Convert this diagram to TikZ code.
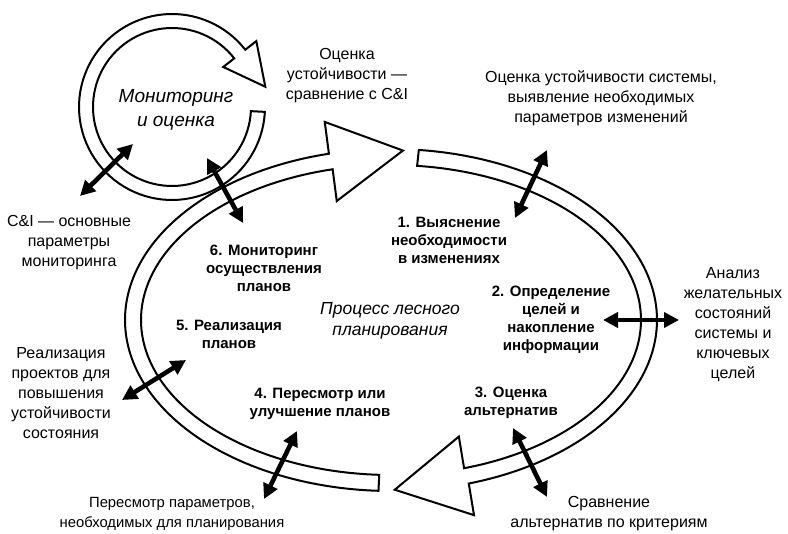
\documentclass[tikz,border=0pt]{standalone}
\usepackage{fontspec}
\setmainfont{Liberation Sans}
\usetikzlibrary{arrows.meta}
\begin{document}
\begin{tikzpicture}[x=1pt,y=-1pt,
  band/.style={draw=black, line width=2pt, line join=miter},
  dbl/.style={line width=4.6pt, {Triangle[length=15pt,width=15pt]}-{Triangle[length=15pt,width=15pt]}},
  txt/.style={font=\fontsize{16}{20}\selectfont, align=center, inner sep=0pt},
  stage/.style={font=\bfseries\fontsize{15}{18}\selectfont, align=center, inner sep=0pt},
  title/.style={font=\itshape\fontsize{19}{24}\selectfont, align=center, inner sep=0pt}]
\useasboundingbox (0,0) rectangle (788,534);

% small monitoring ring
\draw[band] plot[domain=3:322,samples=90] ({172+93*cos(\x)},{107+93*sin(\x)})
  -- ({172+107*cos(322)},{107+107*sin(322)})
  -- ({172+86*cos(322)+41.5*cos(52)},{107+86*sin(322)+41.5*sin(52)})
  -- ({172+65*cos(322)},{107+65*sin(322)})
  -- plot[domain=322:3,samples=90] ({172+79*cos(\x)},{107+79*sin(\x)}) -- cycle;

% big loop, first half (top right to bottom)
\draw[band] plot[domain=-84:73,samples=120] ({391+266*cos(\x)},{320+171*sin(\x)})
  -- (474.02,515.15) -- (394.75,489.73) -- (458.84,436.61)
  -- plot[domain=73:-84,samples=120] ({391+250*cos(\x)},{320+155*sin(\x)}) -- cycle;

% big loop, second half (bottom to top)
\draw[band] plot[domain=92.7:256.5,samples=120] ({391+266*cos(\x)},{320+171*sin(\x)})
  -- (324.77,121.95) -- (402.94,150.55) -- (336.77,201.05)
  -- plot[domain=256.5:92.7,samples=120] ({391+250*cos(\x)},{320+155*sin(\x)}) -- cycle;

% texts
\node[title] (mon) at (176,110) {Мониторинг\\и оценка};
\node[title,font=\itshape\fontsize{17.5}{21}\selectfont] (proc) at (390,321) {Процесс лесного\\планирования};
\node[txt] (ust) at (347,76) {Оценка\\устойчивости —\\сравнение с C\&I};
\node[txt] (ocs) at (601,98) {Оценка устойчивости системы,\\выявление необходимых\\параметров изменений};
\node[txt] (ci) at (69,243) {C\&I — основные\\параметры\\мониторинга};
\node[txt] (real) at (61,393) {Реализация\\проектов для\\повышения\\устойчивости\\состояния};
\node[txt,font=\fontsize{14.8}{20}\selectfont] (pers) at (172,514) {Пересмотр параметров,\\необходимых для планирования};
\node[txt] (srav) at (609,514) {Сравнение\\альтернатив по критериям};
\node[txt] (anal) at (733,325) {Анализ\\желательных\\состояний\\системы и\\ключевых\\целей};
\node[stage] (s1) at (449,240) {1. Выяснение\\необходимости\\в изменениях};
\node[stage] (s2) at (551,320) {2. Определение\\целей и\\накопление\\информации};
\node[stage] (s3) at (511,403) {3. Оценка\\альтернатив};
\node[stage] (s4) at (320,404) {4. Пересмотр или\\улучшение планов};
\node[stage] (s5) at (229,334) {5. Реализация\\планов};
\node[stage] (s6) at (264,268) {6. Мониторинг\\осуществления\\планов};

% arrow end points
\coordinate (a1a) at (133,144); \coordinate (a1b) at (80,196);
\coordinate (a2a) at (207,158); \coordinate (a2b) at (243,223);
\coordinate (a3a) at (547,150); \coordinate (a3b) at (515,218);
\coordinate (a4a) at (603,320); \coordinate (a4b) at (679,320);
\coordinate (a5a) at (513,428); \coordinate (a5b) at (547,497);
\coordinate (a6a) at (297,431); \coordinate (a6b) at (264,499);
\coordinate (a7a) at (186,360); \coordinate (a7b) at (122,400);

\draw[dbl] (a1a) -- (a1b);
\draw[dbl] (a2a) -- (a2b);
\draw[dbl] (a3a) -- (a3b);
\draw[dbl] (a4a) -- (a4b);
\draw[dbl] (a5a) -- (a5b);
\draw[dbl] (a6a) -- (a6b);
\draw[dbl] (a7a) -- (a7b);
\end{tikzpicture}
\end{document}
